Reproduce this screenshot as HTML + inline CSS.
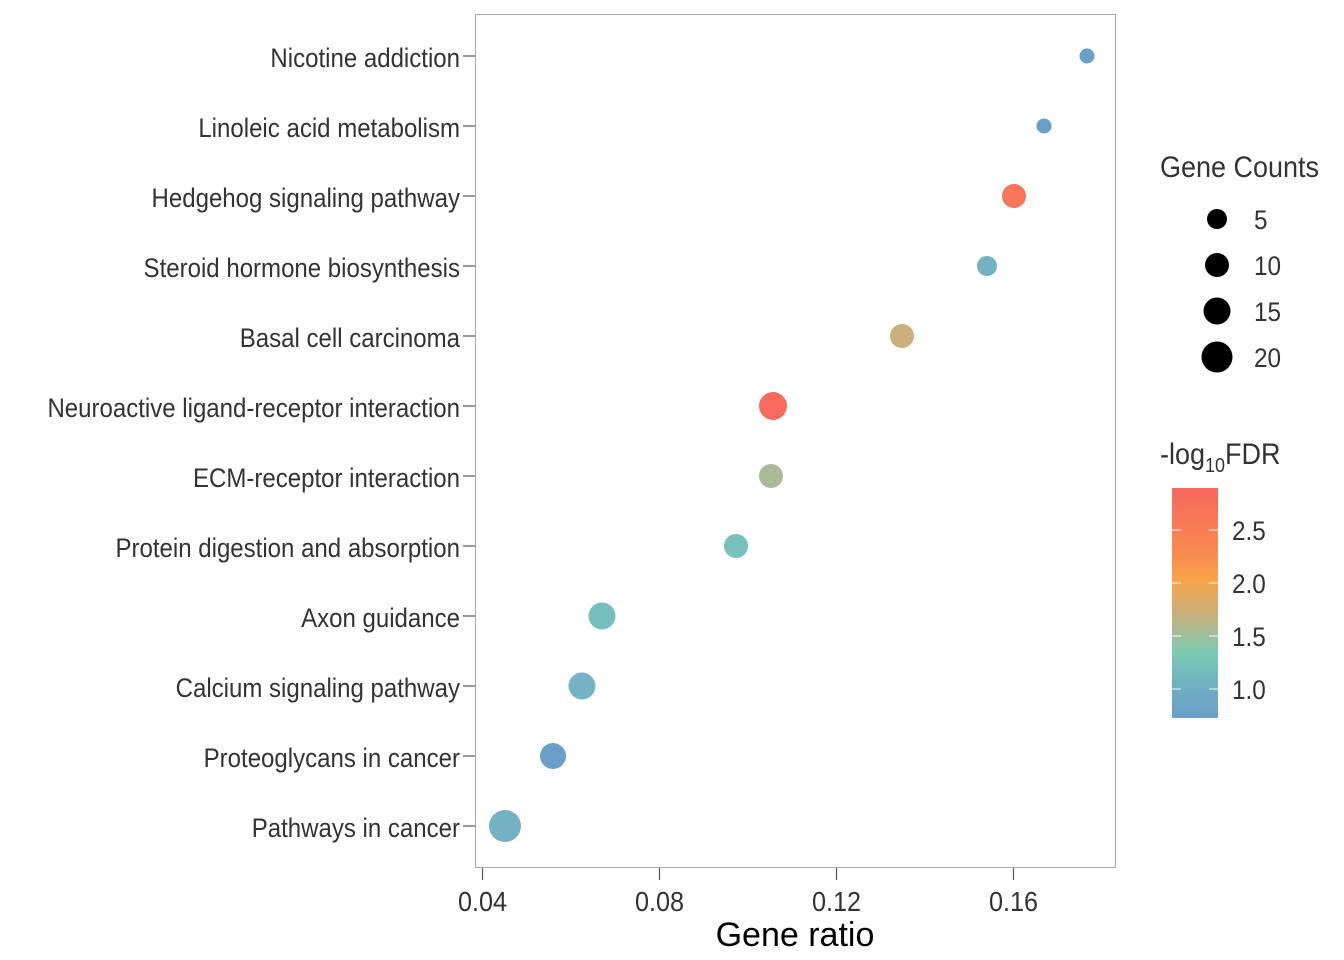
<!DOCTYPE html>
<html><head><meta charset="utf-8"><style>
body{margin:0;background:#fff}
svg{display:block}
text{font-family:"Liberation Sans Narrow","Liberation Sans",sans-serif;fill:#333}
</style></head><body>
<svg width="1344" height="960" viewBox="0 0 1344 960">
<defs><linearGradient id="g" x1="0" y1="0" x2="0" y2="1">
<stop offset="0" stop-color="#f8675f"/>
<stop offset="0.3" stop-color="#f98d4f"/>
<stop offset="0.4" stop-color="#f8a44a"/>
<stop offset="0.55" stop-color="#c9b07c"/>
<stop offset="0.72" stop-color="#7bcab4"/>
<stop offset="0.86" stop-color="#6fb0c2"/>
<stop offset="1" stop-color="#6a9fca"/>
</linearGradient></defs>
<rect x="475.5" y="14.5" width="640" height="853" fill="#fff" stroke="#aaa" stroke-width="1"/>
<g stroke="#555" stroke-width="1.2">
<line x1="463" x2="475" y1="56" y2="56"/><line x1="463" x2="475" y1="126" y2="126"/><line x1="463" x2="475" y1="196" y2="196"/><line x1="463" x2="475" y1="266" y2="266"/><line x1="463" x2="475" y1="336" y2="336"/><line x1="463" x2="475" y1="406" y2="406"/><line x1="463" x2="475" y1="476" y2="476"/><line x1="463" x2="475" y1="546" y2="546"/><line x1="463" x2="475" y1="616" y2="616"/><line x1="463" x2="475" y1="686" y2="686"/><line x1="463" x2="475" y1="756" y2="756"/><line x1="463" x2="475" y1="826" y2="826"/>
<line x1="482.5" x2="482.5" y1="868" y2="880"/><line x1="659.5" x2="659.5" y1="868" y2="880"/><line x1="836.5" x2="836.5" y1="868" y2="880"/><line x1="1013.5" x2="1013.5" y1="868" y2="880"/>
</g>
<g font-size="27" text-anchor="end" transform="translate(460,0) scale(0.89,1)">
<text x="0" y="67">Nicotine addiction</text>
<text x="0" y="137">Linoleic acid metabolism</text>
<text x="0" y="207">Hedgehog signaling pathway</text>
<text x="0" y="277">Steroid hormone biosynthesis</text>
<text x="0" y="347">Basal cell carcinoma</text>
<text x="0" y="417">Neuroactive ligand-receptor interaction</text>
<text x="0" y="487">ECM-receptor interaction</text>
<text x="0" y="557">Protein digestion and absorption</text>
<text x="0" y="627">Axon guidance</text>
<text x="0" y="697">Calcium signaling pathway</text>
<text x="0" y="767">Proteoglycans in cancer</text>
<text x="0" y="837">Pathways in cancer</text>
</g>
<g font-size="28" text-anchor="middle">
<text transform="translate(482.5,911) scale(0.9,1)">0.04</text><text transform="translate(659.5,911) scale(0.9,1)">0.08</text><text transform="translate(836.5,911) scale(0.9,1)">0.12</text><text transform="translate(1013.5,911) scale(0.9,1)">0.16</text>
</g>
<text x="795" y="946" font-size="34" text-anchor="middle" style="font-family:'Liberation Sans',sans-serif;fill:#000">Gene ratio</text>
<g>
<circle cx="1087" cy="56" r="7.5" fill="#6a9fca"/>
<circle cx="1044" cy="126" r="7.5" fill="#6a9fca"/>
<circle cx="1014" cy="196" r="12" fill="#f8765a"/>
<circle cx="987" cy="266" r="10" fill="#73b2c5"/>
<circle cx="902" cy="336" r="12" fill="#c9b07c"/>
<circle cx="773" cy="406" r="14" fill="#f86a5d"/>
<circle cx="771" cy="476" r="12" fill="#a8bb96"/>
<circle cx="736" cy="546" r="12" fill="#77c0bb"/>
<circle cx="602" cy="616" r="13.5" fill="#76bdbe"/>
<circle cx="582" cy="686" r="13.5" fill="#73b3c5"/>
<circle cx="553" cy="756" r="13" fill="#6a9fca"/>
<circle cx="505" cy="826" r="16" fill="#73b2c5"/>
</g>
<text transform="translate(1160,177) scale(0.9,1)" font-size="30">Gene Counts</text>
<circle cx="1217" cy="219" r="10" fill="#000"/>
<circle cx="1217" cy="265" r="12" fill="#000"/>
<circle cx="1217" cy="311" r="13.5" fill="#000"/>
<circle cx="1217" cy="357" r="15.5" fill="#000"/>
<g font-size="27"><text transform="translate(1254,229) scale(0.9,1)">5</text><text transform="translate(1254,275) scale(0.9,1)">10</text><text transform="translate(1254,321) scale(0.9,1)">15</text><text transform="translate(1254,367) scale(0.9,1)">20</text></g>
<text transform="translate(1160,464) scale(0.9,1)" font-size="30">-log<tspan font-size="20" dy="8">10</tspan><tspan dy="-8">FDR</tspan></text>
<rect x="1172" y="488" width="46" height="230" fill="url(#g)"/>
<g stroke="#fff" stroke-width="1.2" opacity="0.8">
<line x1="1172" x2="1181" y1="530" y2="530"/><line x1="1209" x2="1218" y1="530" y2="530"/>
<line x1="1172" x2="1181" y1="583" y2="583"/><line x1="1209" x2="1218" y1="583" y2="583"/>
<line x1="1172" x2="1181" y1="636" y2="636"/><line x1="1209" x2="1218" y1="636" y2="636"/>
<line x1="1172" x2="1181" y1="689" y2="689"/><line x1="1209" x2="1218" y1="689" y2="689"/>
</g>
<g font-size="27"><text transform="translate(1232,540) scale(0.9,1)">2.5</text><text transform="translate(1232,593) scale(0.9,1)">2.0</text><text transform="translate(1232,646) scale(0.9,1)">1.5</text><text transform="translate(1232,699) scale(0.9,1)">1.0</text></g>
</svg>
</body></html>
